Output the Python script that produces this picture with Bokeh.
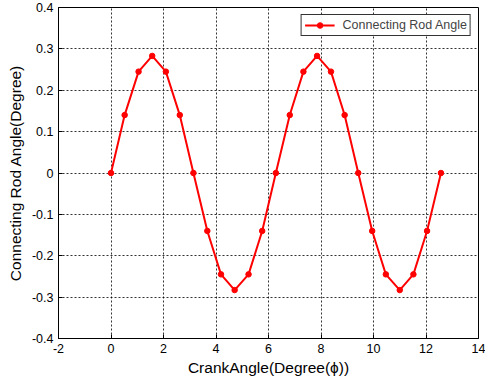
from bokeh.plotting import figure
from bokeh.models import FixedTicker, Legend, LegendItem
from bokeh.embed import file_html
from bokeh.resources import INLINE

crank_angle = [0, 0.52, 1.05, 1.57, 2.09, 2.62, 3.14, 3.67, 4.19, 4.71, 5.24, 5.76,
               6.28, 6.81, 7.33, 7.85, 8.38, 8.90, 9.42, 9.95, 10.47, 11.00, 11.52,
               12.04, 12.57]
rod_angle = [0, 0.14, 0.245, 0.283, 0.245, 0.14, 0, -0.14, -0.245, -0.283, -0.245, -0.14,
             0, 0.14, 0.245, 0.283, 0.245, 0.14, 0, -0.14, -0.245, -0.283, -0.245, -0.14, 0]
x_ticks = [-2, 0, 2, 4, 6, 8, 10, 12, 14]
x_labels = ["-2", "0", "2", "4", "6", "8", "10", "12", "14"]
y_ticks = [-0.4, -0.3, -0.2, -0.1, 0, 0.1, 0.2, 0.3, 0.4]
y_labels = ["-0.4", "-0.3", "-0.2", "-0.1", "0", "0.1", "0.2", "0.3", "0.4"]

FONT = "Liberation Sans"

p = figure(frame_width=420, frame_height=331, x_range=(-2, 14), y_range=(-0.4, 0.4),
           output_backend="svg", toolbar_location=None,
           min_border_left=58, min_border_right=7, min_border_top=7, min_border_bottom=45,
           background_fill_color="white", border_fill_color="white")
p.outline_line_color = "black"
p.outline_line_width = 1
p.outline_line_alpha = 1

for ax in (p.xaxis[0], p.yaxis[0]):
    ax.major_tick_in = 4
    ax.major_tick_out = 0
    ax.minor_tick_in = 0
    ax.minor_tick_out = 0
    ax.axis_line_color = "black"
    ax.major_tick_line_color = "black"
    ax.major_label_text_font = FONT
    ax.major_label_text_font_size = "12.5px"
    ax.major_label_text_color = "black"
    ax.axis_label_text_font = FONT
    ax.axis_label_text_font_size = "15.5px"
    ax.axis_label_text_font_style = "normal"
    ax.axis_label_text_color = "black"

p.xaxis.ticker = FixedTicker(ticks=x_ticks)
p.yaxis.ticker = FixedTicker(ticks=y_ticks)
p.xaxis.major_label_overrides = {t: l for t, l in zip(x_ticks, x_labels)}
p.yaxis.major_label_overrides = {t: l for t, l in zip(y_ticks, y_labels)}
p.xaxis.axis_label = "CrankAngle(Degree(\u03d5))"
p.yaxis.axis_label = "Connecting Rod Angle(Degree)"
p.xaxis.major_label_standoff = 5
p.yaxis.major_label_standoff = 5
p.xaxis.axis_label_standoff = 3
p.yaxis.axis_label_standoff = 5

for g in (p.xgrid[0], p.ygrid[0]):
    g.grid_line_color = "black"
    g.grid_line_dash = "2 2"
    g.grid_line_alpha = 0.8
    g.grid_line_width = 1

ln = p.line(crank_angle, rod_angle, line_color="red", line_width=2)
mk = p.scatter(crank_angle, rod_angle, marker="circle", size=5.5, fill_color="red",
               line_color="red")

legend = Legend(items=[LegendItem(label="Connecting Rod Angle", renderers=[ln, mk])],
                location="top_right")
legend.label_text_font = FONT
legend.label_text_font_size = "12.5px"
legend.border_line_color = "black"
legend.border_line_alpha = 0.8
legend.margin = 7
legend.padding = 3
legend.spacing = 0
legend.glyph_width = 30
legend.glyph_height = 14
legend.label_standoff = 8
legend.label_height = 14
p.add_layout(legend)

open("out.html", "w").write(file_html(p, INLINE))
